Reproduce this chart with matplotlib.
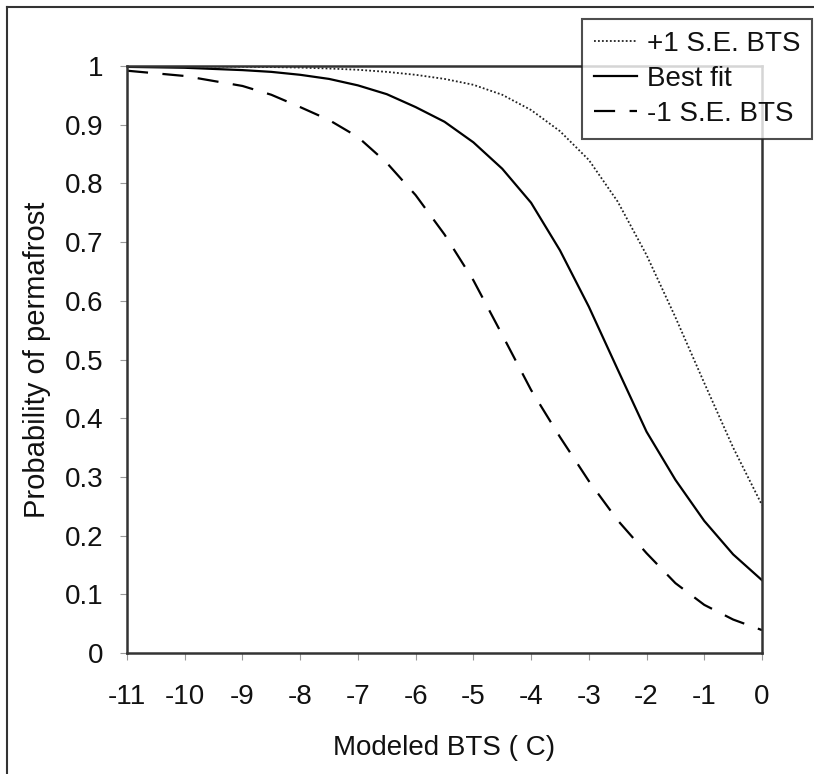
import matplotlib
matplotlib.use("Agg")
import matplotlib.pyplot as plt
from matplotlib.lines import Line2D

plt.rcParams['font.family'] = ['Liberation Sans', 'DejaVu Sans']

bts = [-11, -10, -9, -8.5, -8, -7.5, -7, -6.5, -6, -5.5, -5, -4.5, -4, -3.5,
       -3, -2.5, -2, -1.5, -1, -0.5, 0]
plus_se = [0.9998, 0.9995, 0.9989, 0.9982, 0.9973, 0.9957, 0.9936, 0.990, 0.985,
           0.978, 0.968, 0.951, 0.925, 0.889, 0.84, 0.769, 0.678, 0.572, 0.46,
           0.35, 0.252]
best_fit = [0.9985, 0.997, 0.993, 0.990, 0.985, 0.978, 0.967, 0.952, 0.930,
            0.905, 0.870, 0.825, 0.767, 0.686, 0.590, 0.483, 0.377, 0.295,
            0.225, 0.168, 0.124]
minus_se = [0.992, 0.983, 0.966, 0.951, 0.930, 0.908, 0.879, 0.835, 0.78,
            0.713, 0.635, 0.542, 0.448, 0.368, 0.293, 0.226, 0.17, 0.119,
            0.082, 0.057, 0.039]

x_ticks = [-11, -10, -9, -8, -7, -6, -5, -4, -3, -2, -1, 0]
y_ticks = [0, 0.1, 0.2, 0.3, 0.4, 0.5, 0.6, 0.7, 0.8, 0.9, 1]
y_tick_labels = ['0', '0.1', '0.2', '0.3', '0.4', '0.5', '0.6', '0.7', '0.8', '0.9', '1']
series_labels = ['+1 S.E. BTS', 'Best fit', '-1 S.E. BTS']

W, H = 814, 774
fig = plt.figure(figsize=(W / 100, H / 100), dpi=100)
ax = fig.add_axes([127 / W, 1 - 653 / H, (762 - 127) / W, (653 - 66) / H])

l1, = ax.plot(bts, plus_se, color='#222222', lw=1.3, linestyle=(0, (1, 1.2)))
l2, = ax.plot(bts, best_fit, color='black', lw=1.6, linestyle='-')
l3, = ax.plot(bts, minus_se, color='black', lw=1.6, linestyle=(0, (9.5, 6.5)))

ax.set_xlim(-11, 0)
ax.set_ylim(0, 1)
ax.set_xticks(x_ticks)
ax.set_xticklabels([str(v) for v in x_ticks])
ax.set_yticks(y_ticks)
ax.set_yticklabels(y_tick_labels)
for s in ax.spines.values():
    s.set_linewidth(1.8)
    s.set_color('#333333')
ax.tick_params(axis='both', direction='out', length=5, width=0.8, color='#999999',
               labelsize=20, labelcolor='#111111')
ax.tick_params(axis='x', pad=17)
ax.tick_params(axis='y', pad=12)

ax.set_xlabel('Modeled BTS ( C)', fontsize=20, color='#111111', labelpad=18)
ax.set_ylabel('Probability of permafrost', fontsize=21, color='#111111', labelpad=10)

leg = fig.legend([l1, l2, l3], series_labels, loc='upper left',
                 bbox_to_anchor=(582 / W, 1 - 19 / H), fontsize=20,
                 frameon=True, fancybox=False, edgecolor='#222222',
                 handlelength=1.55, handletextpad=0.38, borderpad=0.42,
                 labelspacing=0.33, borderaxespad=0)
leg.get_frame().set_linewidth(1.5)
for t in leg.get_texts():
    t.set_color('#111111')

# outer frame edges (left and top)
fig.add_artist(Line2D([7 / W, 7 / W], [0, 1 - 7 / H], color='#333333', lw=1.5))
fig.add_artist(Line2D([7 / W, 1], [1 - 7 / H, 1 - 7 / H], color='#333333', lw=1.5))

fig.savefig('out.png', dpi=100)
